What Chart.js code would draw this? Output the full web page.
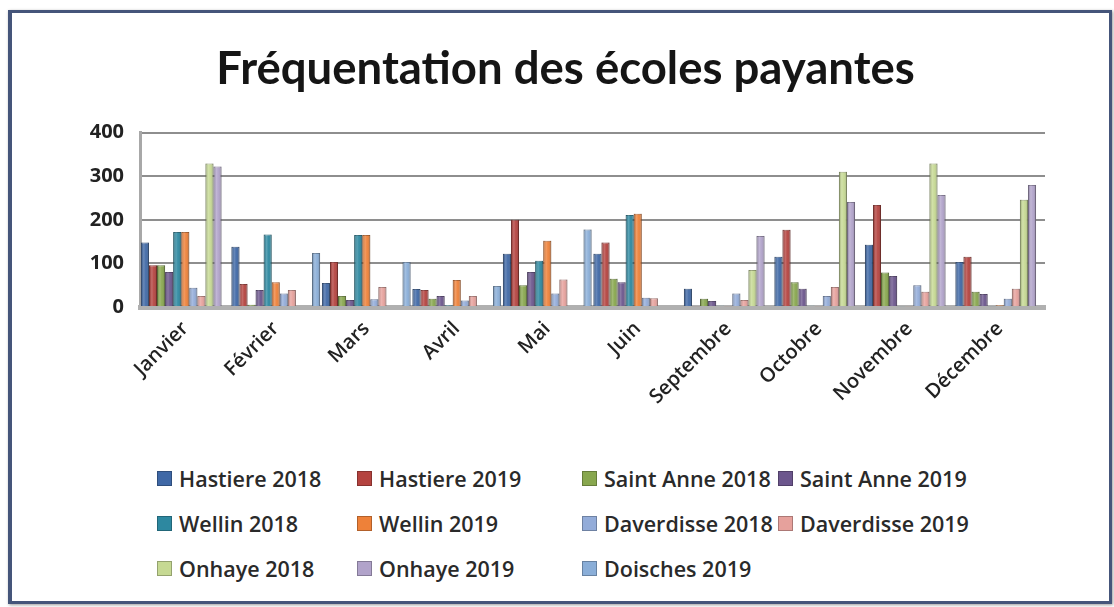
<!DOCTYPE html>
<html>
<head>
<meta charset="utf-8">
<script src="https://cdn.jsdelivr.net/npm/chart.js@4/dist/chart.umd.min.js"></script>
<style>
  html, body { margin:0; padding:0; background:#ffffff; width:1114px; height:607px; overflow:hidden; }
  #frame { position:absolute; left:8px; top:10px; width:1097px; height:588px;
           border:3px solid #45557a; border-left-width:4px; background:#fff; box-shadow: 1px 1px 3px rgba(0,0,0,0.4); }
  #chart { position:absolute; left:0; top:0; }
  #legend { position:absolute; left:157px; top:464px; display:grid;
            grid-template-columns: 200px 225px 196px 200px; grid-auto-rows:45px;
            font-family:'Open Sans', sans-serif; font-weight:600; font-size:21.5px; color:#2a2a2a; }
  .item { display:flex; align-items:center; height:28px; white-space:nowrap; }
  .box { width:15px; height:15px; margin-right:7px; box-sizing:border-box; border:1px solid rgba(0,0,0,0.25); }
</style>
</head>
<body>
<div id="frame"></div>
<canvas id="chart" width="1114" height="452"></canvas>
<div id="legend"></div>
<script>
const months = ['Janvier','Février','Mars','Avril','Mai','Juin','Septembre','Octobre','Novembre','Décembre'];
const seriesNames = ['Hastiere 2018','Hastiere 2019','Saint Anne 2018','Saint Anne 2019','Wellin 2018','Wellin 2019','Daverdisse 2018','Daverdisse 2019','Onhaye 2018','Onhaye 2019','Doisches 2019'];
const hastiere2018   = [148,138, 55, 41,122,122, 42,115,143,103];
const hastiere2019   = [ 96, 53,103, 39,200,148,  2,177,234,115];
const saintAnne2018  = [ 96,  5, 25, 19, 50, 65, 19, 57, 79, 35];
const saintAnne2019  = [ 80, 39, 16, 25, 80, 57, 14, 42, 71, 30];
const wellin2018     = [172,166,165,  4,106,211,  3,  3,  2,  2];
const wellin2019     = [172, 57,165, 62,152,214,  2,  2,  2,  4];
const daverdisse2018 = [ 44, 31, 18, 15, 31, 21, 31, 25, 50, 19];
const daverdisse2019 = [ 25, 39, 46, 25, 63, 20, 16, 46, 35, 42];
const onhaye2018     = [329,  0,  0,  0,  0,  0, 85,310,329,246];
const onhaye2019     = [322,  0,  0,  0,  0,  0,163,241,257,280];
const doisches2019   = [  0,124,103, 48,178,  0,  0,  0,  0,  0];
const yTicks = [0,100,200,300,400];
const colors = ['#3f68a6','#b4433f','#88a74e','#6c568d','#2d88a0','#ee8139','#93acd9','#e6a19c','#c6d993','#b1a3ca','#8aaed8'];

const allSeries = [hastiere2018,hastiere2019,saintAnne2018,saintAnne2019,wellin2018,wellin2019,daverdisse2018,daverdisse2019,onhaye2018,onhaye2019,doisches2019];

function shade(hex, amt){
  const n = parseInt(hex.slice(1),16);
  let r=(n>>16)&255, g=(n>>8)&255, b=n&255;
  if(amt<0){ r=r*(1+amt); g=g*(1+amt); b=b*(1+amt); }
  else { r=r+(255-r)*amt; g=g+(255-g)*amt; b=b+(255-b)*amt; }
  return 'rgb('+Math.round(r)+','+Math.round(g)+','+Math.round(b)+')';
}

const datasets = allSeries.map((d,i)=>({
  label: seriesNames[i], data: d, backgroundColor: colors[i],
  borderColor: shade(colors[i], -0.3), borderWidth: 1,
  barPercentage: 1.0, categoryPercentage: 0.98
}));

const shadePlugin = {
  id:'shade3d',
  afterDatasetDraw(chart, args){
    const ctx = chart.ctx;
    const meta = args.meta;
    meta.data.forEach(el=>{
      const h = el.base - el.y;
      if(!(h>0.5)) return;
      const x0 = el.x - el.width/2, x1 = el.x + el.width/2;
      const g = ctx.createLinearGradient(x0,0,x1,0);
      g.addColorStop(0,'rgba(0,0,0,0.18)');
      g.addColorStop(0.35,'rgba(255,255,255,0.22)');
      g.addColorStop(0.6,'rgba(255,255,255,0.05)');
      g.addColorStop(1,'rgba(0,0,0,0.22)');
      ctx.save();
      ctx.fillStyle = g;
      ctx.fillRect(x0, el.y, el.width, h);
      ctx.restore();
    });
  }
};

new Chart(document.getElementById('chart'), {
  type:'bar',
  data:{ labels: months, datasets },
  plugins:[shadePlugin],
  options:{
    responsive:false, animation:false, devicePixelRatio:1,
    layout:{ padding:{ left:86, right:69, top:0, bottom:0 } },
    plugins:{
      legend:{ display:false },
      tooltip:{ enabled:false },
      title:{ display:true, text:'Fréquentation des écoles payantes',
        font:{ family:'Lato', size:45.5, weight:'bold' }, color:'#151515',
        padding:{ top:42, bottom:36 } }
    },
    scales:{
      y:{ min:0, max:400,
        afterBuildTicks(s){ s.ticks = yTicks.map(v=>({value:v})); },
        afterFit(s){ s.width = 54; },
        ticks:{ font:{ family:'Open Sans', size:20, weight:'bold' }, color:'#222', padding:16 },
        grid:{ color:'#8e8e8e', lineWidth:2, drawTicks:false },
        border:{ display:true, color:'#a8a8a8', width:3 }
      },
      x:{
        afterFit(s){ s.height = 145; },
        ticks:{ font:{ family:'Open Sans', size:20, weight:'600' }, color:'#222', maxRotation:45, minRotation:45, padding:2 },
        grid:{ display:false },
        border:{ display:true, color:'#b0b0b0', width:5 }
      }
    }
  }
});

const leg = document.getElementById('legend');
seriesNames.forEach((n,i)=>{
  const it = document.createElement('div'); it.className='item';
  const b = document.createElement('span'); b.className='box'; b.style.background=colors[i];
  const t = document.createElement('span'); t.textContent = n;
  it.appendChild(b); it.appendChild(t); leg.appendChild(it);
});
</script>
</body>
</html>
